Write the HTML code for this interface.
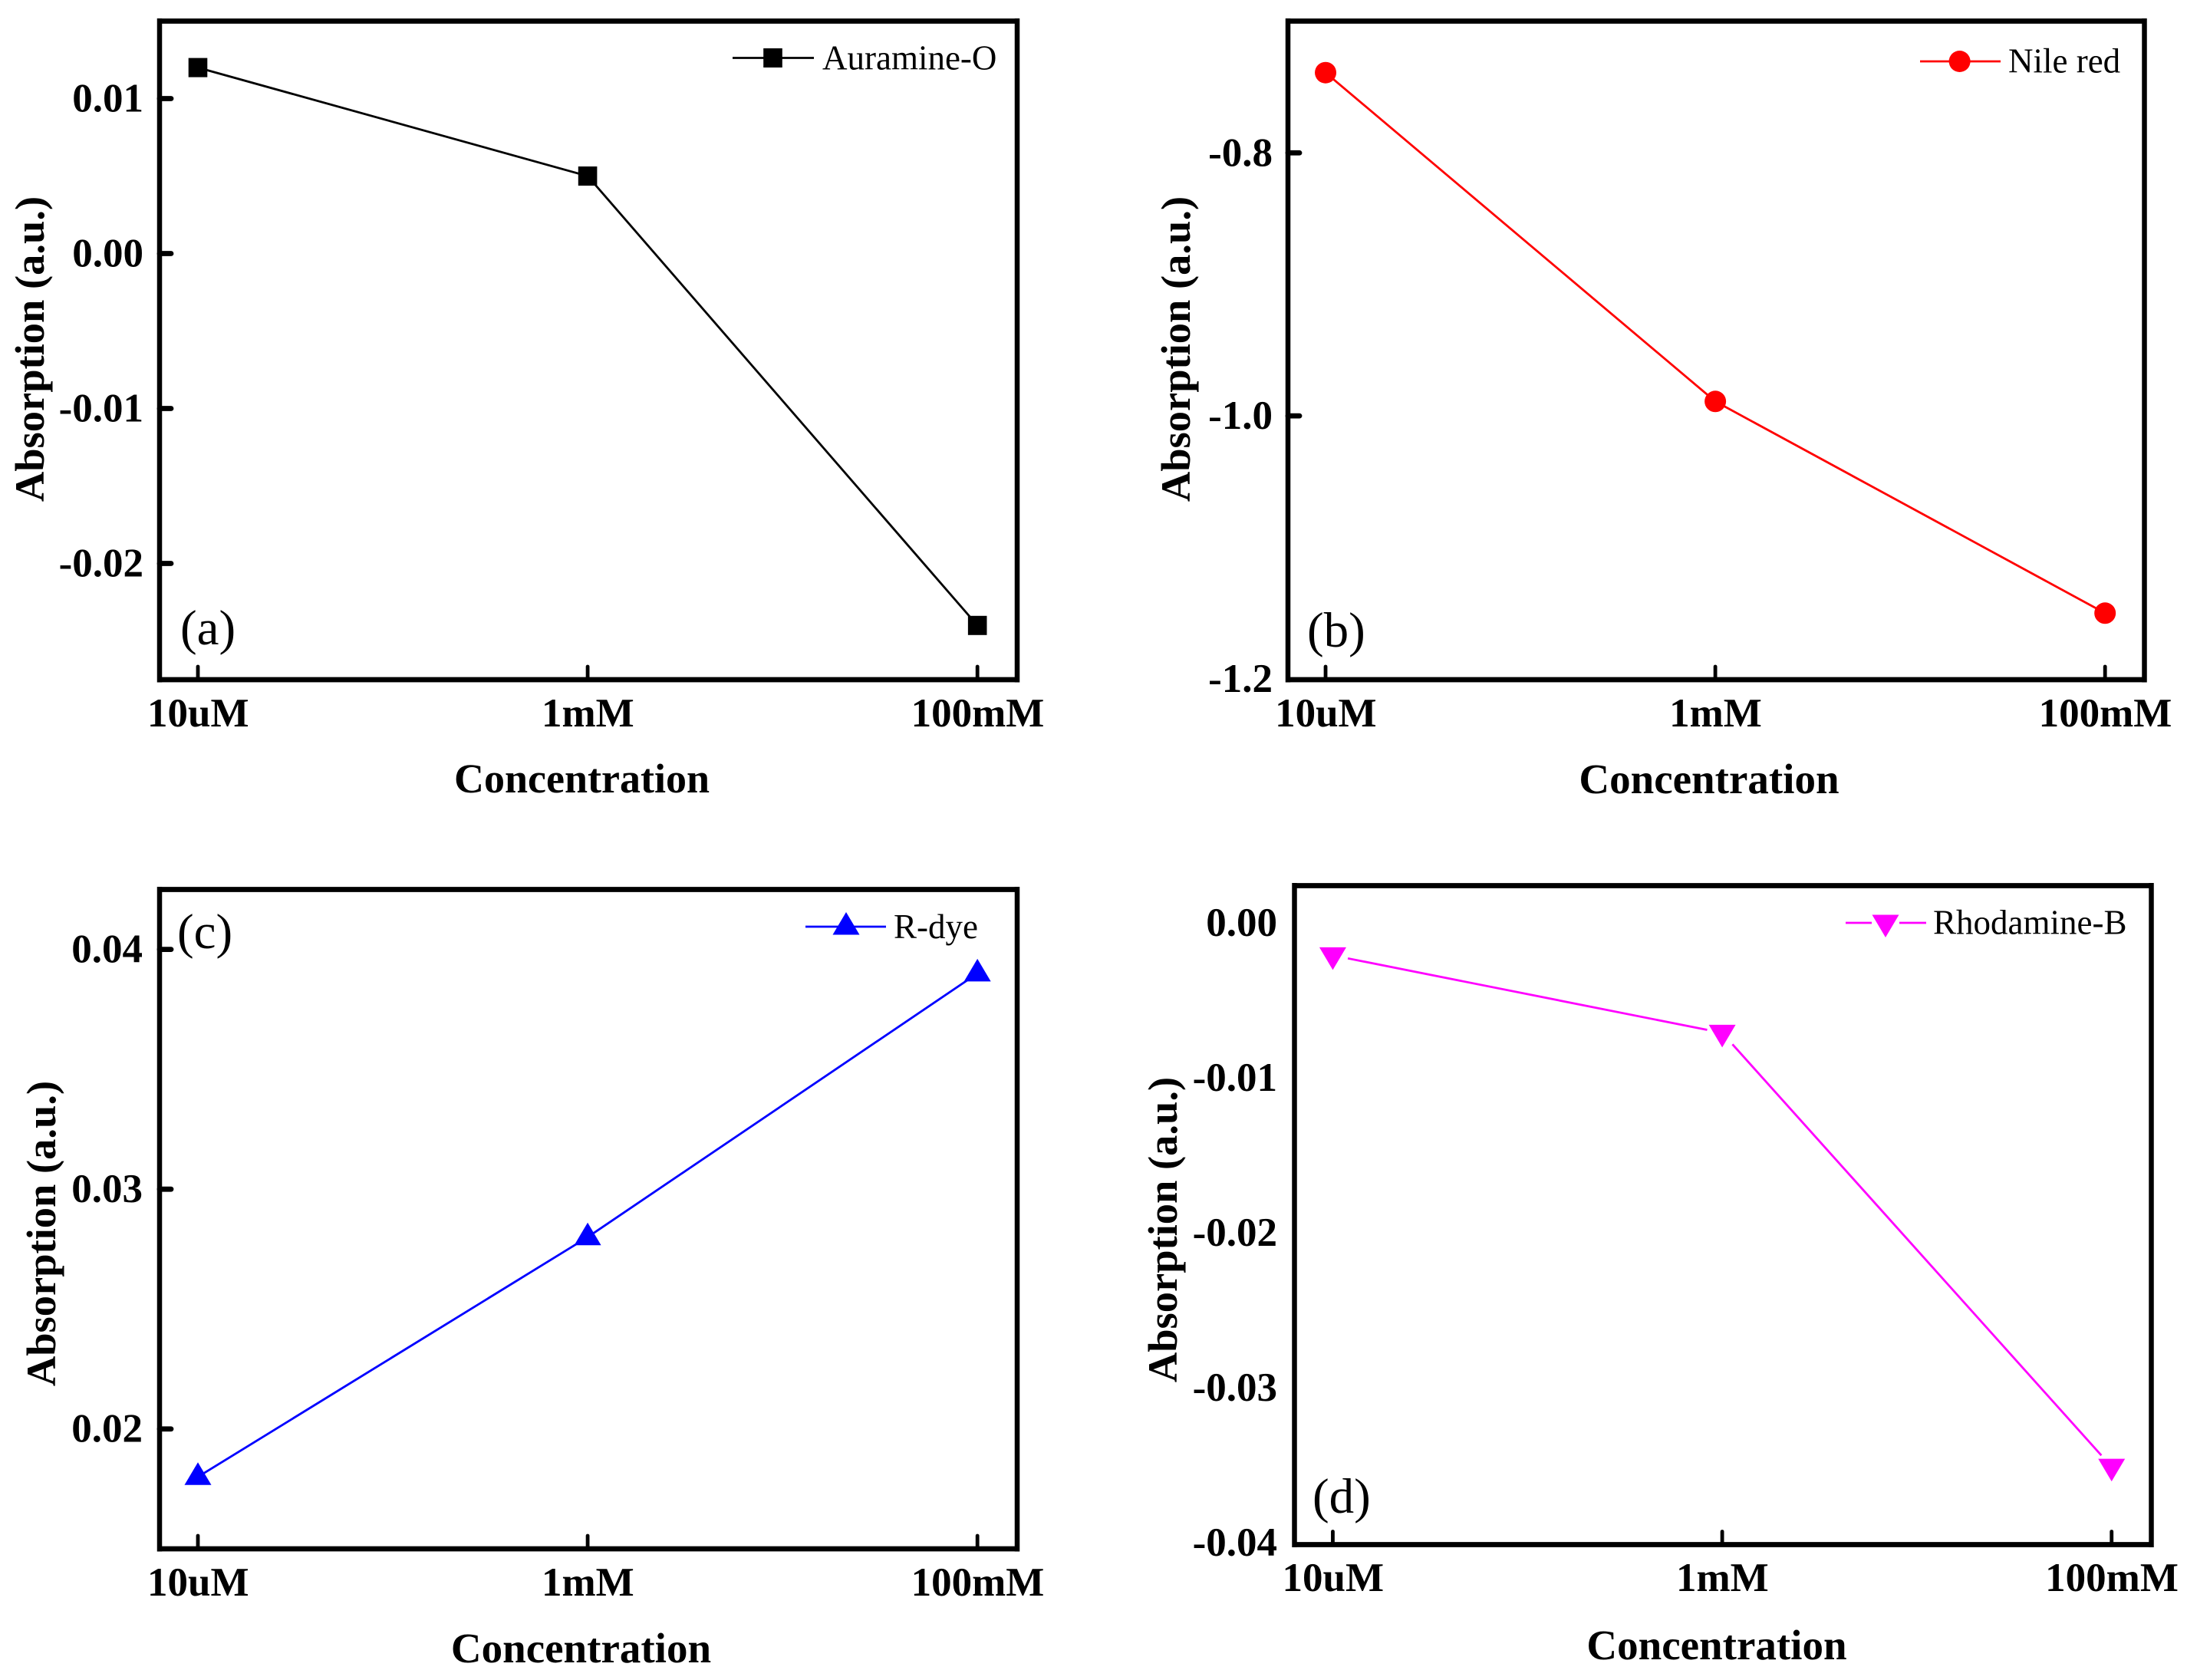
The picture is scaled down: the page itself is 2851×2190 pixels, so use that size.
<!DOCTYPE html>
<html lang="en">
<head>
<meta charset="utf-8">
<title>Absorption versus concentration for four dyes</title>
<style>
html,body{margin:0;padding:0;background:#fff;width:2851px;height:2190px;overflow:hidden}
svg{display:block}
text{font-family:"Liberation Serif",serif;fill:#000}
</style>
</head>
<body>
<svg id="figure" xmlns="http://www.w3.org/2000/svg" width="2851" height="2190" viewBox="0 0 2851 2190"></svg>
<script>
// Data
const categories = ['10uM', '1mM', '100mM'];
const auramineValues = [0.012, 0.005, -0.024];
const nileRedValues = [-0.739, -0.989, -1.15];
const rDyeValues = [0.018, 0.028, 0.039];
const rhodamineValues = [-0.0021, -0.0071, -0.0351];
const auramineTicks = [0.01, 0, -0.01, -0.02];
const auramineTickLabels = ['0.01', '0.00', '-0.01', '-0.02'];
const nileRedTicks = [-0.8, -1.0, -1.2];
const nileRedTickLabels = ['-0.8', '-1.0', '-1.2'];
const rDyeTicks = [0.04, 0.03, 0.02];
const rDyeTickLabels = ['0.04', '0.03', '0.02'];
const rhodamineTicks = [0, -0.01, -0.02, -0.03, -0.04];
const rhodamineTickLabels = ['0.00', '-0.01', '-0.02', '-0.03', '-0.04'];

const NS = 'http://www.w3.org/2000/svg';
const root = document.getElementById('figure');

function add(parent, tag, attrs, name, text) {
  const el = document.createElementNS(NS, tag);
  for (const k in attrs) el.setAttribute(k, attrs[k]);
  
  
  if (text !== undefined) el.textContent = text;
  parent.appendChild(el);
  return el;
}

function marker(parent, shape, cx, cy, color, name) {
  if (shape === 'square') {
    return add(parent, 'rect', {x: cx - 12.3, y: cy - 12.5, width: 24.6, height: 25, fill: color}, name);
  }
  if (shape === 'circle') {
    return add(parent, 'circle', {cx: cx, cy: cy, r: 14, fill: color}, name);
  }
  if (shape === 'up') {
    return add(parent, 'polygon', {points: (cx - 17.5) + ',' + (cy + 10.5) + ' ' + (cx + 17.5) + ',' + (cy + 10.5) + ' ' + cx + ',' + (cy - 19)  , fill: color}, name);
  }
  return add(parent, 'polygon', {points: (cx - 17.5) + ',' + (cy - 10.5) + ' ' + (cx + 17.5) + ',' + (cy - 10.5) + ' ' + cx + ',' + (cy + 19), fill: color}, name);
}

function drawPanel(p) {
  const g = add(root, 'g', {}, 'panel-' + p.id);
  const xScale = function (i) {
    return p.left + (i - p.xMin) * (p.right - p.left) / (p.xMax - p.xMin);
  };
  const yScale = function (v) {
    return p.top + (p.yMax - v) * (p.bottom - p.top) / (p.yMax - p.yMin);
  };

  // series line, with optional gap around each symbol
  p.values.forEach(function (v, i) {
    if (i === 0) return;
    const x0 = xScale(i - 1), y0 = yScale(p.values[i - 1]);
    const x1 = xScale(i), y1 = yScale(v);
    const len = Math.hypot(x1 - x0, y1 - y0);
    const ux = (x1 - x0) / len, uy = (y1 - y0) / len;
    add(g, 'line', {
      x1: x0 + ux * p.gap, y1: y0 + uy * p.gap,
      x2: x1 - ux * p.gap, y2: y1 - uy * p.gap,
      stroke: p.color, 'stroke-width': 2.8
    }, 'series-line-' + p.id + '-segment-' + i);
  });
  p.values.forEach(function (v, i) {
    marker(g, p.shape, xScale(i), yScale(v), p.color, 'point-' + p.id + '-' + categories[i]);
  });

  // frame
  add(g, 'rect', {
    x: p.left, y: p.top, width: p.right - p.left, height: p.bottom - p.top,
    fill: 'none', stroke: '#000', 'stroke-width': 0
  }, 'plot-area-' + p.id);
  add(g, 'line', {x1: p.left, y1: p.top - 3.5, x2: p.left, y2: p.bottom + 3.5, stroke: '#000', 'stroke-width': 6.5}, 'left-spine-' + p.id);
  add(g, 'line', {x1: p.right, y1: p.top - 3.5, x2: p.right, y2: p.bottom + 3.5, stroke: '#000', 'stroke-width': 6.5}, 'right-spine-' + p.id);
  add(g, 'line', {x1: p.left - 3, y1: p.top, x2: p.right + 3, y2: p.top, stroke: '#000', 'stroke-width': 6.8}, 'top-spine-' + p.id);
  add(g, 'line', {x1: p.left - 3, y1: p.bottom, x2: p.right + 3, y2: p.bottom, stroke: '#000', 'stroke-width': 6.8}, 'bottom-spine-' + p.id);

  // x axis
  categories.forEach(function (c, i) {
    const x = xScale(i);
    add(g, 'line', {x1: x, y1: p.bottom, x2: x, y2: p.bottom - 17, stroke: '#000', 'stroke-width': 4.8, 'stroke-linecap': 'round'}, 'x-tick-' + p.id + '-' + c);
    add(g, 'text', {x: x + 0.3, y: p.xLabelY, 'text-anchor': 'middle', 'font-size': 53, 'font-weight': 'bold'}, 'x-tick-label-' + p.id + '-' + c, c);
  });
  add(g, 'text', {x: p.xTitleX, y: p.xTitleY, 'text-anchor': 'middle', 'font-size': p.xTitleSize, 'font-weight': 'bold'}, 'x-axis-title-' + p.id, 'Concentration');

  // y axis
  p.ticks.forEach(function (t, i) {
    const y = yScale(t);
    if (p.showYTicks && p.bottom - y > 5) {
      add(g, 'line', {x1: p.left, y1: y, x2: p.left + 15, y2: y, stroke: '#000', 'stroke-width': 6.8, 'stroke-linecap': 'round'}, 'y-tick-' + p.id + '-' + i);
    }
    add(g, 'text', {x: p.yLabelRight, y: y + 17, 'text-anchor': 'end', 'font-size': 53, 'font-weight': 'bold'}, 'y-tick-label-' + p.id + '-' + i, p.tickLabels[i]);
  });
  add(g, 'text', {
    x: 0, y: 0, 'text-anchor': 'middle', 'font-size': 54.5, 'font-weight': 'bold',
    transform: 'translate(' + p.yTitleX + ' ' + p.yTitleY + ') rotate(-90)'
  }, 'y-axis-title-' + p.id, 'Absorption (a.u.)');

  // panel letter
  add(g, 'text', {x: p.letterX, y: p.letterY, 'font-size': 65}, 'panel-label-' + p.id, p.letter);

  // legend
  const lg = add(g, 'g', {}, 'legend-' + p.id);
  if (p.legendGap) {
    add(lg, 'line', {x1: p.legendX0, y1: p.legendY, x2: p.legendMarkerX - p.legendGap, y2: p.legendY, stroke: p.color, 'stroke-width': 2.8}, 'legend-line-left-' + p.id);
    add(lg, 'line', {x1: p.legendMarkerX + p.legendGap, y1: p.legendY, x2: p.legendX1, y2: p.legendY, stroke: p.color, 'stroke-width': 2.8}, 'legend-line-right-' + p.id);
  } else {
    add(lg, 'line', {x1: p.legendX0, y1: p.legendY, x2: p.legendX1, y2: p.legendY, stroke: p.color, 'stroke-width': 2.8}, 'legend-line-' + p.id);
  }
  marker(lg, p.shape, p.legendMarkerX, p.legendY, p.color, 'legend-marker-' + p.id);
  add(lg, 'text', {x: p.legendTextX, y: p.legendTextY, 'font-size': 45}, 'legend-label-' + p.id, p.series);
}

drawPanel({
  id: 'a', letter: '(a)', series: 'Auramine-O', color: '#000000', shape: 'square', gap: 0,
  values: auramineValues, ticks: auramineTicks, tickLabels: auramineTickLabels, showYTicks: true,
  left: 208, right: 1326, top: 27.5, bottom: 886,
  xMin: -0.0984, xMax: 2.102, yMin: -0.0275, yMax: 0.015,
  xLabelY: 947, xTitleX: 758.5, xTitleY: 1033, xTitleSize: 54,
  yLabelRight: 187, yTitleX: 57, yTitleY: 455,
  letterX: 235, letterY: 840,
  legendX0: 955, legendX1: 1061, legendY: 75.5, legendMarkerX: 1007.5, legendGap: 0,
  legendTextX: 1072, legendTextY: 90.5
});
drawPanel({
  id: 'b', letter: '(b)', series: 'Nile red', color: '#ff0000', shape: 'circle', gap: 0,
  values: nileRedValues, ticks: nileRedTicks, tickLabels: nileRedTickLabels, showYTicks: true,
  left: 1679, right: 2795.5, top: 27.5, bottom: 886,
  xMin: -0.0965, xMax: 2.101, yMin: -1.2006, yMax: -0.6998,
  xLabelY: 947, xTitleX: 2228, xTitleY: 1034, xTitleSize: 55,
  yLabelRight: 1659, yTitleX: 1551, yTitleY: 455,
  letterX: 1704, letterY: 843,
  legendX0: 2503, legendX1: 2608, legendY: 80, legendMarkerX: 2554.6, legendGap: 0,
  legendTextX: 2618, legendTextY: 94.5
});
drawPanel({
  id: 'c', letter: '(c)', series: 'R-dye', color: '#0000ff', shape: 'up', gap: 0,
  values: rDyeValues, ticks: rDyeTicks, tickLabels: rDyeTickLabels, showYTicks: true,
  left: 208, right: 1326, top: 1159.5, bottom: 2019,
  xMin: -0.0984, xMax: 2.102, yMin: 0.015, yMax: 0.0425,
  xLabelY: 2080, xTitleX: 757.5, xTitleY: 2167, xTitleSize: 55,
  yLabelRight: 186, yTitleX: 72, yTitleY: 1608,
  letterX: 231, letterY: 1236,
  legendX0: 1050, legendX1: 1155, legendY: 1208, legendMarkerX: 1103, legendGap: 0,
  legendTextX: 1165, legendTextY: 1223
});
drawPanel({
  id: 'd', letter: '(d)', series: 'Rhodamine-B', color: '#ff00ff', shape: 'down', gap: 20,
  values: rhodamineValues, ticks: rhodamineTicks, tickLabels: rhodamineTickLabels, showYTicks: false,
  left: 1687.5, right: 2804.5, top: 1154.5, bottom: 2013.5,
  xMin: -0.0984, xMax: 2.102, yMin: -0.04012, yMax: 0.0024,
  xLabelY: 2074, xTitleX: 2238, xTitleY: 2163, xTitleSize: 55,
  yLabelRight: 1665, yTitleX: 1534, yTitleY: 1603,
  letterX: 1711, letterY: 1972,
  legendX0: 2406, legendX1: 2511, legendY: 1203, legendMarkerX: 2458, legendGap: 18,
  legendTextX: 2520, legendTextY: 1217.5
});
</script>
</body>
</html>
